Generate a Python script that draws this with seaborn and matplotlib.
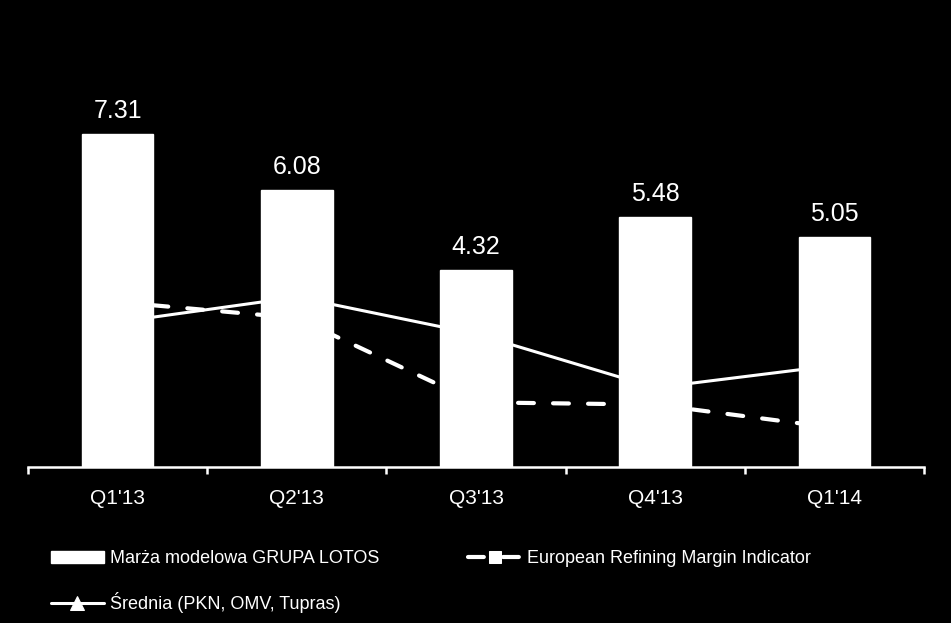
import matplotlib.pyplot as plt
import numpy as np
import pandas as pd
import seaborn as sns
from matplotlib import font_manager

quarters = ["Q1'13", "Q2'13", "Q3'13", "Q4'13", "Q1'14"]
lotos = [7.31, 6.08, 4.32, 5.48, 5.05]
ermi = [3.62, 3.27, 1.42, 1.37, 0.86]
srednia = [3.18, 3.73, 2.92, 1.74, 2.23]

sns.set_theme(style="dark")
names = {f.name for f in font_manager.fontManager.ttflist}
narrow = 'Liberation Sans Narrow' if 'Liberation Sans Narrow' in names else 'Liberation Sans'
plt.rcParams['font.family'] = ['Liberation Sans', 'DejaVu Sans']

df = pd.DataFrame({'q': quarters, 'lotos': lotos, 'ermi': ermi, 'srednia': srednia})

fig = plt.figure(figsize=(9.51, 6.23), dpi=100, facecolor='black')
ax = fig.add_axes([28/951, 156/623, 896/951, 410/623])
ax.set_facecolor('black')

sns.barplot(data=df, x='q', y='lotos', color='white', width=0.4, saturation=1,
            ax=ax, zorder=3, label='Marża modelowa GRUPA LOTOS')
sns.lineplot(data=df, x='q', y='srednia', color='white', lw=2.2, marker='^',
             markersize=10, markeredgecolor='white', ax=ax, zorder=2,
             label='Średnia (PKN, OMV, Tupras)')
sns.lineplot(data=df, x='q', y='ermi', color='white', lw=3, marker='s',
             markersize=8, markeredgecolor='white', ax=ax, zorder=2,
             dashes=False, label='European Refining Margin Indicator')
ln = ax.get_lines()[-1]
ln.set_dashes((3.8, 4.6))
ln.set_dash_capstyle('round')

for i, v in enumerate(lotos):
    ax.annotate(f'{v:.2f}', (i, v), xytext=(0, 8), textcoords='offset points',
                ha='center', va='bottom', color='white', fontsize=18)

ax.set_xlim(-0.5, 4.5)
ax.set_ylim(0, 9)
ax.set_xlabel('')
ax.set_ylabel('')
ax.set_yticks([])
ax.grid(False)
for s in ['top', 'right', 'left']:
    ax.spines[s].set_visible(False)
ax.spines['bottom'].set_color('white')
ax.spines['bottom'].set_linewidth(1.8)
ax.set_xticks(range(5))
ax.set_xticklabels(quarters, fontsize=15, color='white', family=narrow)
ax.set_xticks(np.arange(-0.5, 5, 1), minor=True)
ax.tick_params(axis='x', which='major', length=0, pad=16)
ax.tick_params(axis='x', which='minor', length=5, width=1.8, color='white',
               direction='out', bottom=True)

h, l = ax.get_legend_handles_labels()
order = [l.index('Marża modelowa GRUPA LOTOS'), l.index('Średnia (PKN, OMV, Tupras)'),
         l.index('European Refining Margin Indicator')]
leg = ax.legend([h[i] for i in order], [l[i] for i in order], ncol=2,
                loc='upper left', bbox_to_anchor=(7/896, -0.164), frameon=False,
                prop={'family': narrow, 'size': 13}, labelcolor='white',
                handlelength=2.9, handletextpad=0.33, columnspacing=4.95,
                labelspacing=1.36)

fig.savefig('out.png', dpi=100, facecolor='black')
